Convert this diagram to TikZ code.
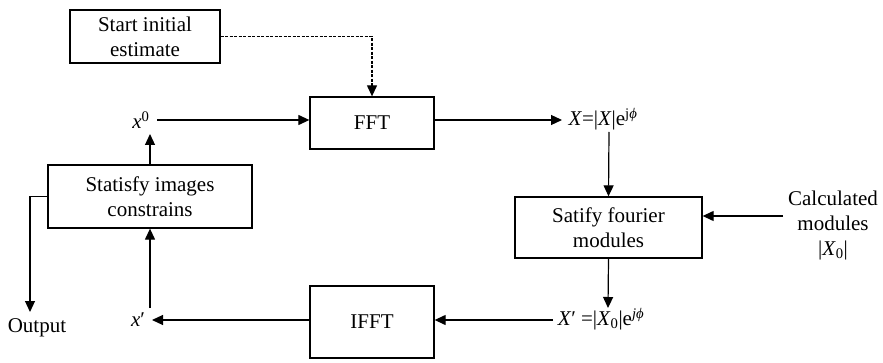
\documentclass[tikz,border=0pt]{standalone}
\usepackage{fontspec}
\setmainfont{Liberation Serif}
\usetikzlibrary{arrows.meta}
\begin{document}
\begin{tikzpicture}[x=1pt,y=-1pt,
  every node/.style={font=\fontsize{21}{25}\selectfont},
  blk/.style={draw,line width=1.3pt,inner sep=0pt,align=center},
  lbl/.style={inner sep=0pt,align=center},
  arr/.style={line width=1.2pt,-{Triangle[length=11pt,width=10pt]}},
  dsh/.style={line width=1.2pt,dash pattern=on 3pt off 1.5pt,-{Triangle[length=11pt,width=10pt]}}]
\useasboundingbox (0,0) rectangle (883,363);
\node[blk,minimum width=150pt,minimum height=53pt] (start) at (145,36.5) {Start initial\\estimate};
\node[blk,minimum width=124pt,minimum height=52pt] (fft) at (372,123) {FFT};
\node[blk,minimum width=204pt,minimum height=63pt] (stat) at (150,196.5) {Statisfy images\\constrains};
\node[blk,minimum width=124pt,minimum height=72pt] (ifft) at (372,322) {IFFT};
\node[blk,minimum width=187pt,minimum height=61pt] (sat) at (608.5,227.5) {Satify fourier\\modules};
\node[lbl] (x0) at (141,120) {\textit{x}\textsuperscript{0}};
\node[lbl] (X) at (603,119) {\textit{X}=|\textit{X}|e\textsuperscript{j\textit{ϕ}}};
\node[lbl] (Xp) at (601,319) {\textit{X}′ =|\textit{X}\textsubscript{0}|e\textsuperscript{\textit{jϕ}}};
\node[lbl] (xp) at (138,320) {\textit{x}′};
\node[lbl] (out) at (37,328) {Output};
\node[lbl] (calc) at (833,225) {Calculated\\modules\\|\textit{X}\textsubscript{0}|};
\coordinate (x0r) at (157,120);
\coordinate (x0b) at (150,134);
\coordinate (Xr) at (562,120);
\coordinate (Xb) at (609,132);
\coordinate (Xpt) at (608,308);
\coordinate (Xpl) at (553,320);
\coordinate (xpr) at (152,320);
\coordinate (xpt) at (150,308);
\coordinate (outt) at (30,312);
\coordinate (calcl) at (783,216);
\draw[dsh] (start.east) -| (fft.north);
\draw[arr] (x0r) -- (fft.west |- x0r);
\draw[arr] (stat.north) -- (x0b);
\draw[arr] (fft.east |- Xr) -- (Xr);
\draw[arr] (Xb) -- (sat.north);
\draw[arr] (calcl) -- (sat.east |- calcl);
\draw[arr] (sat.south) -- (Xpt);
\draw[arr] (Xpl) -- (ifft.east |- Xpl);
\draw[arr] (ifft.west |- xpr) -- (xpr);
\draw[arr] (xpt) -- (stat.south);
\draw[arr] (stat.west) -| (outt);
\end{tikzpicture}
\end{document}
